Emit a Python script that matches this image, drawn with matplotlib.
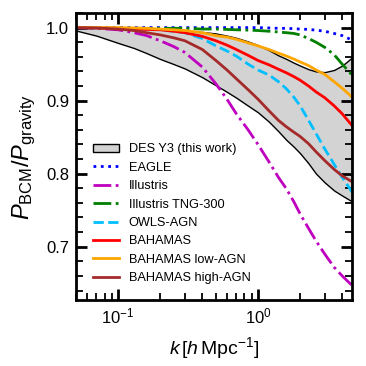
import numpy as np
import matplotlib
matplotlib.use("Agg")
import matplotlib.pyplot as plt
from matplotlib.ticker import MultipleLocator, LogLocator, NullFormatter

plt.rcParams['font.family'] = ['Liberation Sans', 'DejaVu Sans']
plt.rcParams['mathtext.fontset'] = 'custom'
plt.rcParams['mathtext.rm'] = 'Liberation Sans'
plt.rcParams['mathtext.it'] = 'Liberation Sans:italic'

# Datos
k = [0.05, 0.07, 0.1, 0.13, 0.16, 0.2, 0.25, 0.3, 0.4, 0.5, 0.6, 0.7, 0.85,
     1.0, 1.2, 1.4, 1.6, 1.8, 2.0, 2.3, 2.6, 3.0, 3.5, 4.0, 4.7]

des_low = [0.996, 0.989, 0.979, 0.972, 0.965, 0.957, 0.950, 0.944, 0.932, 0.921,
           0.912, 0.904, 0.893, 0.884, 0.871, 0.858, 0.846, 0.837, 0.828, 0.814,
           0.800, 0.788, 0.777, 0.770, 0.762]
des_up = [1.0, 1.0, 0.9995, 0.999, 0.9985, 0.998, 0.997, 0.996, 0.994, 0.992,
          0.989, 0.986, 0.981, 0.976, 0.969, 0.962, 0.957, 0.952, 0.948, 0.943,
          0.940, 0.939, 0.942, 0.948, 0.959]

eagle = [1.0, 1.0, 1.0, 1.0, 1.0, 1.0, 1.0, 1.0, 1.0, 1.0,
         1.0, 1.0, 1.0, 1.0, 0.9995, 0.999, 0.999, 0.9985, 0.998, 0.9975,
         0.9965, 0.995, 0.992, 0.989, 0.983]
illustris = [1.0, 0.999, 0.997, 0.993, 0.989, 0.982, 0.974, 0.966, 0.946, 0.923,
             0.902, 0.882, 0.860, 0.840, 0.816, 0.795, 0.779, 0.762, 0.745, 0.725,
             0.708, 0.690, 0.672, 0.660, 0.647]
tng300 = [1.0, 0.9995, 0.999, 0.999, 0.999, 0.999, 0.999, 0.999, 0.998, 0.998,
          0.9975, 0.997, 0.9965, 0.996, 0.995, 0.994, 0.993, 0.992, 0.990, 0.985,
          0.980, 0.973, 0.963, 0.950, 0.935]
owls = [1.0, 0.9995, 0.999, 0.9985, 0.998, 0.997, 0.995, 0.993, 0.985, 0.975,
        0.968, 0.961, 0.950, 0.942, 0.935, 0.926, 0.916, 0.905, 0.893, 0.873,
        0.855, 0.834, 0.813, 0.795, 0.775]
bahamas = [1.0, 0.9995, 0.999, 0.998, 0.9975, 0.997, 0.995, 0.993, 0.988, 0.982,
           0.976, 0.970, 0.962, 0.955, 0.949, 0.943, 0.938, 0.933, 0.928, 0.920,
           0.912, 0.904, 0.893, 0.882, 0.866]
bahamas_low = [1.0, 1.0, 1.0, 0.9995, 0.999, 0.998, 0.997, 0.996, 0.993, 0.989,
               0.987, 0.984, 0.979, 0.975, 0.970, 0.965, 0.961, 0.957, 0.953, 0.948,
               0.942, 0.936, 0.926, 0.917, 0.905]
bahamas_high = [1.0, 0.9995, 0.998, 0.996, 0.993, 0.990, 0.986, 0.982, 0.970, 0.955,
                0.942, 0.930, 0.915, 0.902, 0.886, 0.873, 0.864, 0.857, 0.851, 0.841,
                0.830, 0.818, 0.806, 0.797, 0.789]

fig = plt.figure(figsize=(3.66, 3.66), dpi=100)
ax = fig.add_axes([0.2077, 0.1803, 0.754, 0.7842])

ax.fill_between(k, des_low, des_up, facecolor='lightgray', edgecolor='black',
                linewidth=1.0, label='DES Y3 (this work)')
ax.plot(k, eagle, color='blue', ls=':', lw=2, label='EAGLE')
ax.plot(k, illustris, color='m', ls='-.', lw=2, label='Illustris')
ax.plot(k, tng300, color='green', ls='-.', lw=2, label='Illustris TNG-300')
ax.plot(k, owls, color='deepskyblue', ls='--', lw=2, label='OWLS-AGN')
ax.plot(k, bahamas, color='red', ls='-', lw=2, label='BAHAMAS')
ax.plot(k, bahamas_low, color='orange', ls='-', lw=2, label='BAHAMAS low-AGN')
ax.plot(k, bahamas_high, color='brown', ls='-', lw=2, label='BAHAMAS high-AGN')

ax.set_xscale('log')
ax.set_xlim(0.05, 4.7)
ax.set_ylim(0.627, 1.02)

ax.yaxis.set_major_locator(MultipleLocator(0.1))
ax.yaxis.set_minor_locator(MultipleLocator(0.02))
ax.xaxis.set_minor_locator(LogLocator(base=10, subs=np.arange(2, 10)))
ax.xaxis.set_minor_formatter(NullFormatter())

ax.tick_params(which='both', direction='in', top=True, right=True, labelsize=12)
ax.tick_params(which='major', length=8, width=2, pad=5)
ax.tick_params(which='minor', length=5, width=1.3)
for s in ax.spines.values():
    s.set_linewidth(2)

ax.set_xlabel(r'$k\,[h\,\mathrm{Mpc}^{-1}]$', fontsize=14, labelpad=6)
ax.set_ylabel(r'$P_{\mathrm{BCM}}/P_{\mathrm{gravity}}$', fontsize=17, labelpad=6)

ax.legend(loc='lower left', bbox_to_anchor=(0.02, 0.015), frameon=False,
          fontsize=9.2, handlelength=2.0, labelspacing=0.5, handletextpad=0.8)

plt.savefig('out.png', dpi=100)
